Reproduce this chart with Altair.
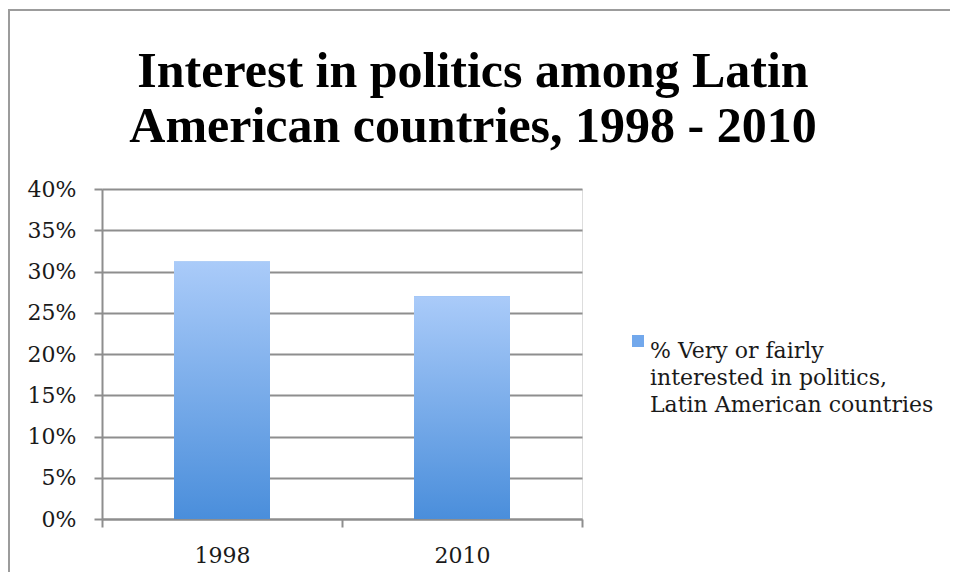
import altair as alt
import pandas as pd

# ---- data ----
years = ["1998", "2010"]
values = [0.312, 0.270]
series_label = "% Very or fairly|interested in politics,|Latin American countries"
title_lines = ["Interest in politics among Latin", "American countries, 1998 - 2010"]
y_ticks = [0, 0.05, 0.10, 0.15, 0.20, 0.25, 0.30, 0.35, 0.40]

df = pd.DataFrame({"year": years, "value": values, "series": [series_label] * len(years)})

GRID = "#8e8e8e"
BORDER = "#9c9c9c"
BODY_FONT = "DejaVu Serif"
TEXT = "#1a1a1a"

grad = alt.Gradient(
    gradient="linear",
    stops=[alt.GradientStop(color="#aacbf9", offset=0),
           alt.GradientStop(color="#4a8edb", offset=1)],
    x1=0, x2=0, y1=0, y2=1,
)

x_enc = alt.X(
    "year:N", title=None, sort=years,
    scale=alt.Scale(paddingInner=0, paddingOuter=0),
    axis=alt.Axis(labelAngle=0, tickBand="extent", grid=False,
                  domainColor=GRID, domainWidth=2, tickColor=GRID, tickWidth=2,
                  tickSize=8, labelFont=BODY_FONT, labelFontSize=22,
                  labelColor=TEXT, labelPadding=18),
)
y_enc = alt.Y(
    "value:Q", title=None,
    scale=alt.Scale(domain=[0, 0.4], nice=False),
    axis=alt.Axis(values=y_ticks, format=".0%", grid=True, gridColor=GRID,
                  gridWidth=2, domainColor=GRID, domainWidth=2, tickColor=GRID,
                  tickWidth=2, tickSize=8, labelFont=BODY_FONT, labelFontSize=22,
                  labelColor=TEXT, labelPadding=18),
)

border = alt.Chart(df).mark_rect(fillOpacity=0, stroke=BORDER, strokeWidth=2).encode(
    x=alt.value(-93), x2=alt.value(2000), y=alt.value(-179), y2=alt.value(2000)
)

bars_legend = alt.Chart(df).mark_bar(width=alt.RelativeBandSize(0.4)).encode(
    x=x_enc, y=y_enc,
    color=alt.Color(
        "series:N",
        scale=alt.Scale(range=["#72a8ec"]),
        legend=alt.Legend(title=None, orient="none", legendX=525, legendY=141,
                          symbolType="square", symbolSize=144, symbolStrokeWidth=0,
                          labelFont=BODY_FONT, labelFontSize=22, labelColor=TEXT,
                          labelExpr="split(datum.label, '|')", labelLimit=500,
                          labelOffset=1, labelBaseline="top", padding=0),
    ),
)

bars_grad = alt.Chart(df).mark_bar(width=alt.RelativeBandSize(0.4), color=grad).encode(
    x=x_enc, y=y_enc
)

chart = alt.layer(border, bars_legend, bars_grad).properties(
    width=480, height=330,
    autosize=alt.AutoSizeParams(type="none"),
    padding={"left": 94, "top": 181, "right": 368, "bottom": 53},
    title=alt.TitleParams(text=title_lines, font="Liberation Serif", fontSize=50,
                          fontWeight="bold", lineHeight=55, anchor="middle",
                          frame="group", dx=131, dy=183, offset=0,
                          baseline="alphabetic", color="#000000"),
).configure_view(stroke=None).configure(
    style={"guide-label": {"lineHeight": 27}}
)

chart.save("out.html", embed_options={"renderer": "svg", "actions": False})
